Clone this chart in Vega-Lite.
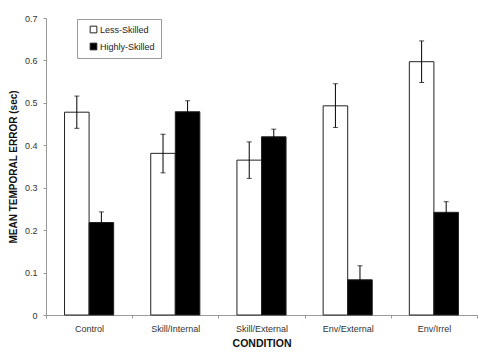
{
  "$schema": "https://vega.github.io/schema/vega-lite/v6.json",
  "width": 431,
  "height": 297,
  "autosize": {"type": "none"},
  "padding": {"left": 46, "top": 18, "right": 23, "bottom": 44},
  "background": "white",
  "config": {
    "view": {"stroke": null},
    "font": "Liberation Sans"
  },
  "data": {
    "values": [
      {"condition": "Control", "group": "Less-Skilled", "mean": 0.478, "lo": 0.440, "hi": 0.516},
      {"condition": "Control", "group": "Highly-Skilled", "mean": 0.218, "lo": 0.193, "hi": 0.243},
      {"condition": "Skill/Internal", "group": "Less-Skilled", "mean": 0.381, "lo": 0.335, "hi": 0.426},
      {"condition": "Skill/Internal", "group": "Highly-Skilled", "mean": 0.479, "lo": 0.453, "hi": 0.505},
      {"condition": "Skill/External", "group": "Less-Skilled", "mean": 0.365, "lo": 0.322, "hi": 0.408},
      {"condition": "Skill/External", "group": "Highly-Skilled", "mean": 0.420, "lo": 0.401, "hi": 0.438},
      {"condition": "Env/External", "group": "Less-Skilled", "mean": 0.493, "lo": 0.442, "hi": 0.545},
      {"condition": "Env/External", "group": "Highly-Skilled", "mean": 0.083, "lo": 0.049, "hi": 0.116},
      {"condition": "Env/Irrel", "group": "Less-Skilled", "mean": 0.597, "lo": 0.548, "hi": 0.646},
      {"condition": "Env/Irrel", "group": "Highly-Skilled", "mean": 0.242, "lo": 0.217, "hi": 0.267}
    ]
  },
  "encoding": {
    "x": {
      "field": "condition",
      "type": "nominal",
      "sort": ["Control", "Skill/Internal", "Skill/External", "Env/External", "Env/Irrel"],
      "scale": {"paddingInner": 0, "paddingOuter": 0},
      "axis": {
        "title": "CONDITION",
        "titleFont": "Liberation Sans",
        "titleFontWeight": "bold",
        "titleFontSize": 10.5,
        "titleColor": "#111",
        "titlePadding": 5,
        "labelAngle": 0,
        "labelFontSize": 9,
        "labelColor": "#333",
        "labelPadding": 6,
        "tickBand": "extent",
        "tickSize": 3,
        "tickColor": "#999",
        "domainColor": "#999",
        "grid": false
      }
    },
    "xOffset": {
      "field": "group",
      "type": "nominal",
      "sort": ["Less-Skilled", "Highly-Skilled"],
      "scale": {"paddingInner": 0, "paddingOuter": 0.755}
    }
  },
  "layer": [
    {
      "mark": {"type": "bar", "stroke": "#222", "strokeWidth": 1},
      "encoding": {
        "y": {
          "field": "mean",
          "type": "quantitative",
          "scale": {"domain": [0, 0.7], "nice": false},
          "axis": {
            "title": "MEAN TEMPORAL ERROR (sec)",
            "titleFont": "Liberation Sans",
            "titleFontWeight": "bold",
            "titleFontSize": 10,
            "titleColor": "#111",
            "titlePadding": 6,
            "values": [0, 0.1, 0.2, 0.3, 0.4, 0.5, 0.6, 0.7],
            "format": "~g",
            "labelFontSize": 9,
            "labelColor": "#333",
            "labelPadding": 6,
            "tickSize": 3,
            "tickColor": "#999",
            "domainColor": "#999",
            "grid": false
          }
        },
        "fill": {
          "field": "group",
          "type": "nominal",
          "sort": ["Less-Skilled", "Highly-Skilled"],
          "scale": {"domain": ["Less-Skilled", "Highly-Skilled"], "range": ["white", "black"]},
          "legend": {
            "title": null,
            "orient": "none",
            "legendX": 31,
            "legendY": 1,
            "direction": "vertical",
            "symbolType": "square",
            "symbolSize": 45,
            "symbolOffset": 6,
            "symbolStrokeColor": "#222",
            "symbolStrokeWidth": 1,
            "labelFontSize": 9,
            "labelColor": "#222",
            "labelOffset": 2,
            "rowPadding": 6,
            "padding": 6,
            "strokeColor": "#999",
            "fillColor": "white"
          }
        }
      }
    },
    {
      "mark": {"type": "rule", "color": "black", "strokeWidth": 1},
      "encoding": {
        "y": {"field": "lo", "type": "quantitative"},
        "y2": {"field": "hi"}
      }
    },
    {
      "mark": {"type": "tick", "color": "black", "size": 5, "thickness": 1},
      "encoding": {"y": {"field": "lo", "type": "quantitative"}}
    },
    {
      "mark": {"type": "tick", "color": "black", "size": 5, "thickness": 1},
      "encoding": {"y": {"field": "hi", "type": "quantitative"}}
    }
  ]
}
